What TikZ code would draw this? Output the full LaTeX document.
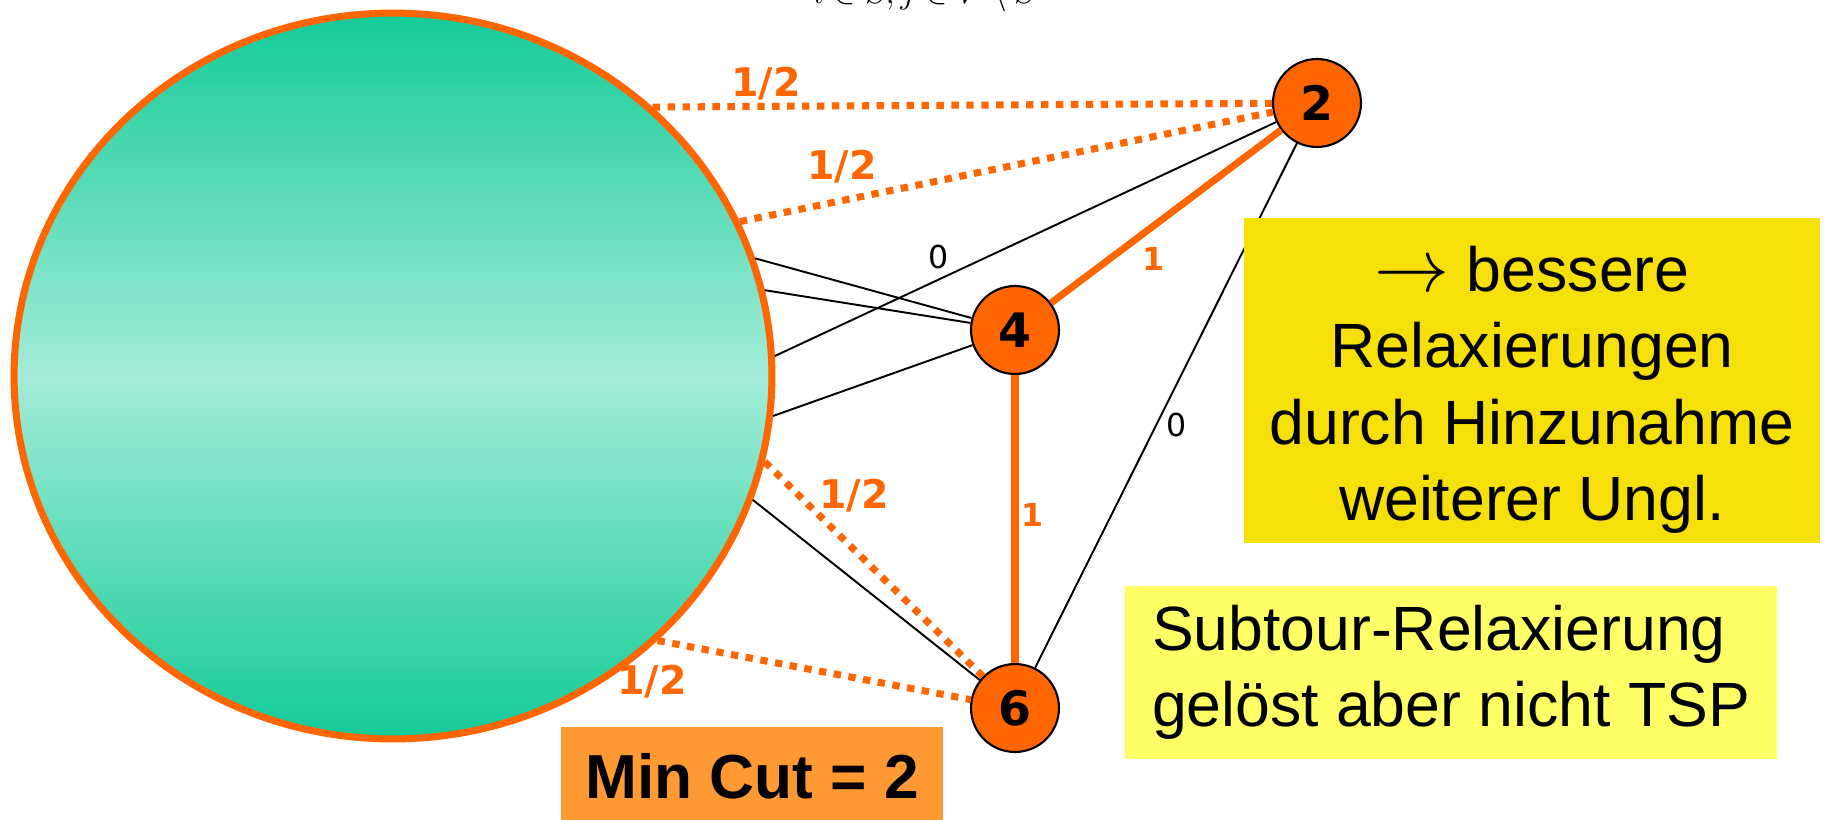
\documentclass[tikz,border=0pt]{standalone}
\usepackage{fix-cm}
\usepackage{fontspec}
\setmainfont{Liberation Sans}
\newfontfamily\dejavu{DejaVu Sans}
\usetikzlibrary{shapes.geometric,positioning}
\definecolor{orng}{RGB}{255,102,0}
\definecolor{mintdark}{RGB}{20,203,152}
\definecolor{mintlight}{RGB}{164,236,216}
\definecolor{yel}{RGB}{245,224,10}
\definecolor{paleyel}{RGB}{255,255,102}
\definecolor{cutorange}{RGB}{255,153,51}

\begin{document}
\begin{tikzpicture}[x=0.02cm, y=-0.02cm,
    region/.style={ellipse, draw=orng, line width=4pt, minimum width=15.16cm, minimum height=14.52cm, inner sep=0pt,
        top color=mintdark, bottom color=mintdark, middle color=mintlight},
    city/.style={circle, draw, line width=1.2pt, fill=orng, minimum size=1.76cm, inner sep=0pt,
        font=\dejavu\bfseries\fontsize{27}{27}\selectfont},
    halfedge/.style={draw=orng, line width=4pt, dash pattern=on 4.2pt off 4.3pt},
    fulledge/.style={draw=orng, line width=4pt},
    zeroedge/.style={draw=black, line width=1.1pt},
    halflabel/.style={text=orng, inner sep=0pt, font=\dejavu\bfseries\fontsize{22.5}{22.5}\selectfont},
    onelabel/.style={text=orng, inner sep=0pt, font=\dejavu\bfseries\fontsize{18}{18}\selectfont},
    zerolabel/.style={inner sep=0pt, font=\dejavu\fontsize{18}{18}\selectfont},
    notebox/.style={inner sep=0pt, font=\fontsize{35.6}{43.6}\selectfont}
]
    \useasboundingbox (0,0) rectangle (1827,819);

    % cut-off formula at the top edge
    \node[anchor=base, font=\fontsize{19}{19}\selectfont] (sumidx) at (925,3) {$i\in S, j\in V\setminus S$};

    \node[region] (S) at (393,376) {};
    \node[city] (n2) at (1317,103) {2};
    \node[city] (n4) at (1015,330) {4};
    \node[city] (n6) at (1015,708) {6};

    % edges with x_ij = 1/2
    \draw[halfedge] (S.46.96) -- (n2);
    \draw[halfedge] (S.24.2) -- (n2);
    \draw[halfedge] (S.347.3) -- (n6);
    \draw[halfedge] (S.315.8) -- (n6);
    % edges with x_ij = 1
    \draw[fulledge] (n2) -- (n4);
    \draw[fulledge] (n4) -- (n6);
    % edges with x_ij = 0
    \draw[zeroedge] (S.18.9) -- (n4);
    \draw[zeroedge] (S.13.1) -- (n4);
    \draw[zeroedge] (S.3.1) -- (n2);
    \draw[zeroedge] (S.354.5) -- (n4);
    \draw[zeroedge] (S.341.1) -- (n6);
    \draw[zeroedge] (n2) -- (n6);

    \node[halflabel] (h1) at (766,84) {1/2};
    \node[halflabel] (h2) at (842,167) {1/2};
    \node[halflabel] (h3) at (854,496) {1/2};
    \node[halflabel] (h4) at (652,682) {1/2};
    \node[onelabel] (o1) at (1153,259) {1};
    \node[onelabel] (o2) at (1032,515) {1};
    \node[zerolabel] (z1) at (939,257) {0};
    \node[zerolabel] (z2) at (1177,425) {0};

    \node[notebox, fill=yel, align=center, minimum width=11.52cm, minimum height=6.5cm] (better) at (1532,380.5)
        {\rule{0pt}{1.28cm}\scalebox{1.2}{$\rightarrow$} bessere\\Relaxierungen\\durch Hinzunahme\\weiterer Ungl.};
    \node[notebox, fill=paleyel, align=left, minimum width=13.04cm, minimum height=3.46cm] (subtour) at (1451,672.5)
        {Subtour-Relaxierung\\gel\"ost aber nicht TSP};
    \node[notebox, fill=cutorange, minimum width=7.64cm, minimum height=1.98cm, font=\bfseries\fontsize{35.4}{35.4}\selectfont] (mincut) at (752,776.5)
        {Min Cut = 2};
\end{tikzpicture}
\end{document}
